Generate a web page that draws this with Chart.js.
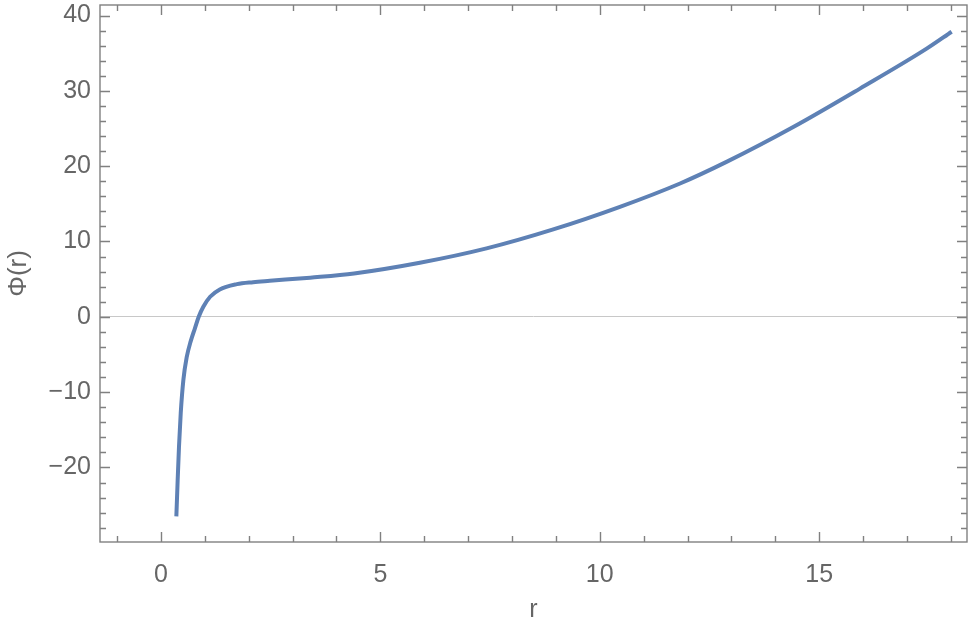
<!DOCTYPE html>
<html>
<head>
<meta charset="utf-8">
<script src="https://cdn.jsdelivr.net/npm/chart.js@4/dist/chart.umd.min.js"></script>
<style>
  html, body { margin: 0; padding: 0; background: #fff; }
  #wrap { width: 969px; height: 627px; }
</style>
</head>
<body>
<div id="wrap"><canvas id="phi-chart" width="969" height="627"></canvas></div>
<script>
// values
const rValues   = [0.35, 0.38, 0.41, 0.45, 0.51, 0.585, 0.68, 0.775, 0.86, 0.965, 1.12, 1.34, 1.73, 2.10, 2.48, 3.40, 4.40, 5.90, 7.42, 8.94, 10.46, 11.83, 12.90, 14.41, 15.93, 17.45, 18.02];
const phiValues = [-26.5, -21.7, -17.3, -12.8, -8.4, -5.4, -3.2, -1.5, 0.0, 1.33, 2.66, 3.64, 4.34, 4.6, 4.78, 5.2, 5.75, 7.17, 9.08, 11.6, 14.6, 17.7, 20.6, 25.2, 30.3, 35.6, 37.85];

const xTicks = [0, 5, 10, 15];
const yTicks = [-20, -10, 0, 10, 20, 30, 40];

const labelColor = '#666';
const frameColor = '#808080';
const fontFamily = '"Liberation Sans", Arial, sans-serif';

// Mathematica style frame with inward ticks on all four sides
const frameTicks = {
    id: 'frameTicks',
    afterDraw(chart) {
        const { ctx, chartArea: a, scales: { x, y } } = chart;
        ctx.save();
        ctx.strokeStyle = frameColor;
        ctx.lineWidth = 1.4;

        for (let v = Math.ceil(x.min); v <= x.max; v++) {
            const px = Math.round(x.getPixelForValue(v)) + 0.5;
            const len = v % 5 === 0 ? 10 : 6;
            ctx.beginPath();
            ctx.moveTo(px, a.bottom); ctx.lineTo(px, a.bottom - len);
            ctx.moveTo(px, a.top); ctx.lineTo(px, a.top + len);
            ctx.stroke();
        }
        for (let v = Math.ceil(y.min / 2) * 2; v <= y.max; v += 2) {
            const py = Math.round(y.getPixelForValue(v)) + 0.5;
            const len = v % 10 === 0 ? 10 : 6;
            ctx.beginPath();
            ctx.moveTo(a.left, py); ctx.lineTo(a.left + len, py);
            ctx.moveTo(a.right, py); ctx.lineTo(a.right - len, py);
            ctx.stroke();
        }
        ctx.strokeRect(a.left, a.top, a.right - a.left, a.bottom - a.top);
        ctx.restore();
    }
};

const ctx = document.getElementById('phi-chart').getContext('2d');

new Chart(ctx, {
    type: 'line',
    data: {
        datasets: [{
            data: rValues.map((r, i) => ({ x: r, y: phiValues[i] })),
            borderColor: '#5E81B5',
            borderWidth: 4,
            pointRadius: 0,
            fill: false,
            cubicInterpolationMode: 'monotone'
        }]
    },
    options: {
        responsive: false,
        animation: false,
        layout: { padding: { top: 5, right: 2, left: 0, bottom: 0 } },
        plugins: {
            legend: { display: false },
            tooltip: { enabled: false }
        },
        scales: {
            x: {
                type: 'linear',
                min: -1.39,
                max: 18.37,
                afterBuildTicks: s => { s.ticks = xTicks.map(v => ({ value: v })); },
                afterFit: s => { s.height = 85; s.paddingLeft = 0; s.paddingRight = 0; },
                grid: { display: false },
                border: { display: false },
                ticks: {
                    color: labelColor,
                    padding: 10,
                    maxRotation: 0,
                    font: { family: fontFamily, size: 25 }
                },
                title: {
                    display: true,
                    text: 'r',
                    color: labelColor,
                    padding: { top: 0, bottom: 2 },
                    font: { family: fontFamily, size: 25 }
                }
            },
            y: {
                type: 'linear',
                min: -29.9,
                max: 41.4,
                afterBuildTicks: s => { s.ticks = yTicks.map(v => ({ value: v })); },
                afterFit: s => { s.width = 100; s.paddingTop = 0; s.paddingBottom = 0; },
                grid: {
                    drawTicks: false,
                    lineWidth: 1,
                    color: c => (c.tick && c.tick.value === 0 ? '#c8c8c8' : 'rgba(0,0,0,0)')
                },
                border: { display: false },
                ticks: {
                    color: labelColor,
                    padding: 9,
                    font: { family: fontFamily, size: 25 },
                    callback: v => String(v).replace('-', '\u2212')
                },
                title: {
                    display: true,
                    text: 'Φ(r)',
                    color: labelColor,
                    padding: { top: 3, bottom: 0 },
                    font: { family: fontFamily, size: 26 }
                }
            }
        }
    },
    plugins: [frameTicks]
});
</script>
</body>
</html>
